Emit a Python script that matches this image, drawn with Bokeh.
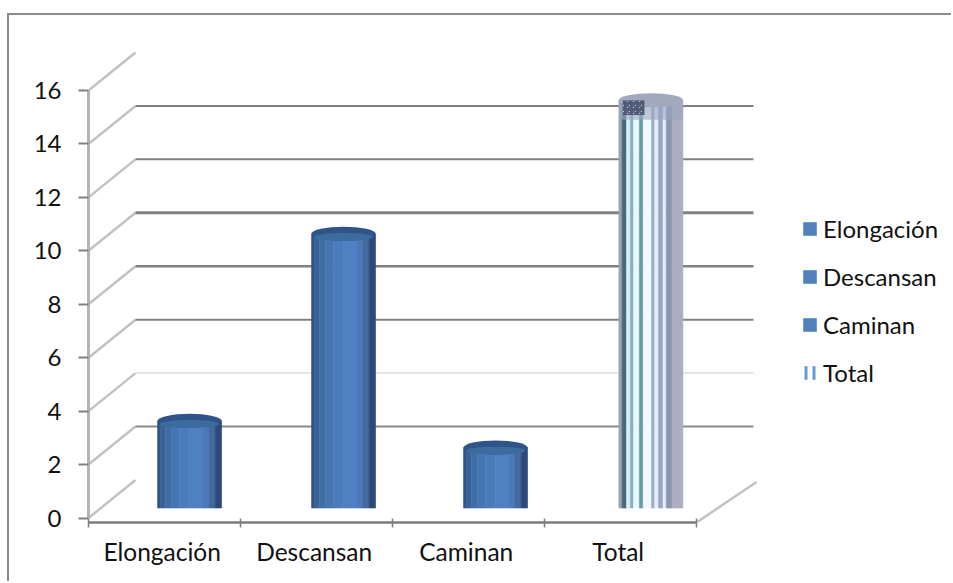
from bokeh.embed import file_html
from bokeh.resources import INLINE
from bokeh.plotting import figure
from bokeh.models import FixedTicker, Legend, LegendItem, LinearAxis, Range1d

categories = ["Elongación", "Descansan", "Caminan", "Total"]
values = [3, 10, 2, 15]
y_ticks = [0, 2, 4, 6, 8, 10, 12, 14, 16]
grid_levels = [2, 4, 6, 8, 10, 12, 14]
grid_colors = ["#8a8a8a", "#e6e6e6", "#808080", "#808080", "#808080", "#808080", "#808080"]
grid_widths = [2, 2, 2, 2.5, 3, 2, 2]
bar_shifts = [0.165, 0.178, 0.178, 0.20]

FONT = "Lato"
W, H = 953, 583
EDGE_L, EDGE_T = 8, 14          # chart-area edge, drawn as the host's CSS border
FRAME_L, FRAME_R, FRAME_T, FRAME_B = 88, 948, 25, 522
PX_X = 152.0
PX_Y = 26.72
ZERO_PX = 517.5

# Depth of the 3D box, expressed in data units
DEPTH_X = 47 / PX_X
DEPTH_Y = 38 / PX_Y
BAR_LIFT = 10 / PX_Y
BAR_W = 64 / PX_X
CAP_H = 14 / PX_Y

p = figure(width=W - EDGE_L - 1, height=H - EDGE_T - 1,
           margin=(EDGE_T - 1, 0, 0, EDGE_L - 1),
           styles={"border-top": "2px solid #8c8c8c", "border-left": "2px solid #8c8c8c"},
           output_backend="svg", toolbar_location=None,
           x_axis_type=None, y_axis_type=None,
           x_range=Range1d(0, (FRAME_R - FRAME_L) / PX_X),
           y_range=Range1d((ZERO_PX - FRAME_B) / PX_Y, (ZERO_PX - FRAME_T) / PX_Y),
           min_border_left=FRAME_L - EDGE_L - 1, min_border_right=W - FRAME_R,
           min_border_top=FRAME_T - EDGE_T - 1, min_border_bottom=H - FRAME_B,
           outline_line_color=None, background_fill_color="white",
           border_fill_color="white")
p.grid.visible = False

# Value axis
yaxis = LinearAxis(ticker=FixedTicker(ticks=y_ticks), bounds=(0, 16),
                   axis_line_color="#b4b4b4", axis_line_width=3,
                   major_tick_line_color="#808080", major_tick_line_width=2,
                   major_tick_in=0, major_tick_out=10, minor_tick_line_color=None,
                   major_label_text_font=FONT, major_label_text_font_size="24px",
                   major_label_text_color="#111111", major_label_standoff=17)
p.add_layout(yaxis, "left")

# Category axis: labels sit near mid-category, tick marks at the category edges
label_pos = [i + 0.485 for i in range(len(categories))]
xaxis = LinearAxis(ticker=FixedTicker(ticks=label_pos, minor_ticks=list(range(len(categories) + 1))),
                   bounds=(-0.013, len(categories)),
                   major_label_overrides={c: n for c, n in zip(label_pos, categories)},
                   axis_line_color="#7c7c7c", axis_line_width=2.5,
                   major_tick_line_color=None,
                   minor_tick_line_color="#808080", minor_tick_line_width=1.5,
                   minor_tick_in=4, minor_tick_out=5,
                   major_label_text_font=FONT, major_label_text_font_size="24.5px",
                   major_label_text_color="#111111", major_label_standoff=8)
p.add_layout(xaxis, "below")

# Side wall and floor edges of the box
for v in y_ticks:
    p.line([0, DEPTH_X], [v, v + DEPTH_Y], line_color="#c2c2c2", line_width=2.5)
p.line([len(categories), len(categories) + 60 / PX_X],
       [(ZERO_PX - FRAME_B) / PX_Y, DEPTH_Y - 2 / PX_Y],
       line_color="#c2c2c2", line_width=2.5)

# Back wall gridlines
for v, c, w in zip(grid_levels, grid_colors, grid_widths):
    p.line([DEPTH_X, 665 / PX_X], [v + DEPTH_Y, v + DEPTH_Y], line_color=c, line_width=w)

solid_stripes = [(0.00, 0.05, "#2f5488"), (0.05, 0.12, "#3a6296"), (0.12, 0.22, "#3f6ea6"),
                 (0.22, 0.34, "#4676b2"), (0.34, 0.50, "#4a7cbc"), (0.50, 0.70, "#4f80c2"),
                 (0.70, 0.80, "#4a78b8"), (0.80, 0.90, "#44699f"), (0.90, 1.00, "#2c4a78")]
striped_stripes = [(0.00, 0.05, "#98a4a8"), (0.05, 0.12, "#4a6a7c"), (0.12, 0.18, "#d8f0f8"),
                   (0.18, 0.23, "#8ab0c0"), (0.23, 0.32, "#e8f8ff"), (0.32, 0.38, "#6a9aa4"),
                   (0.38, 0.51, "#f0fbff"), (0.51, 0.56, "#a0aec8"), (0.56, 0.62, "#e4eefa"),
                   (0.62, 0.69, "#9aa6c4"), (0.69, 0.74, "#e4eefa"), (0.74, 0.83, "#8a96b0"),
                   (0.83, 1.00, "#adadc0")]

# Cylinders: vertical shading strips plus an elliptical cap
for i, (cat, v, shift) in enumerate(zip(categories, values, bar_shifts)):
    cx = i + 0.5 + shift
    left = cx - BAR_W / 2
    is_total = cat == "Total"
    cap_mid = v + BAR_LIFT + CAP_H / 2
    for a, b, col in (striped_stripes if is_total else solid_stripes):
        p.quad(left=left + a * BAR_W, right=left + b * BAR_W,
               bottom=BAR_LIFT, top=cap_mid,
               fill_color=col, line_color=col, line_width=0.6)
    if is_total:
        p.quad(left=left, right=left + BAR_W, bottom=v + BAR_LIFT - CAP_H * 0.9, top=cap_mid,
               fill_color="#9aa5c0", fill_alpha=0.6, line_color=None)
        p.ellipse(x=cx, y=cap_mid, width=BAR_W, height=CAP_H,
                  fill_color="#a3a9bd", line_color=None)
        # Woven texture on the front-left of the cap
        p.quad(left=left + 0.06 * BAR_W, right=left + 0.40 * BAR_W,
               bottom=v + BAR_LIFT - CAP_H * 0.55, top=cap_mid,
               fill_color="#c4cbdc", line_color=None,
               hatch_pattern="criss_cross", hatch_color="#4e5a76",
               hatch_scale=6, hatch_weight=2)
    else:
        p.ellipse(x=cx, y=cap_mid, width=BAR_W, height=CAP_H,
                  fill_color="#2f5488", line_color=None)
        p.ellipse(x=cx, y=cap_mid - CAP_H * 0.22, width=BAR_W * 0.92, height=CAP_H * 0.56,
                  fill_color="#3c6c9e", line_color=None)

# Legend keys: kept off the visible x range, only their swatches show
items = []
for cat, v in zip(categories, values):
    off = dict(left=[-2], right=[-1], bottom=[0], top=[v], line_color=None)
    if cat == "Total":
        r = p.quad(fill_color="white", hatch_pattern="vertical_line", hatch_color="#6a98d0",
                   hatch_scale=8, hatch_weight=3, **off)
    else:
        r = p.quad(fill_color="#4f81bd", **off)
    items.append(LegendItem(label=cat, renderers=[r], index=0))

legend = Legend(items=items, location=(801 - FRAME_L, FRAME_B - 387),
                orientation="vertical", background_fill_alpha=0, border_line_color=None,
                glyph_width=17, glyph_height=17, label_standoff=5, spacing=19,
                padding=0, margin=0, label_height=21,
                label_text_font=FONT, label_text_font_size="24px",
                label_text_color="#111111")
p.add_layout(legend, "center")

open("out.html", "w").write(file_html(p, INLINE))
